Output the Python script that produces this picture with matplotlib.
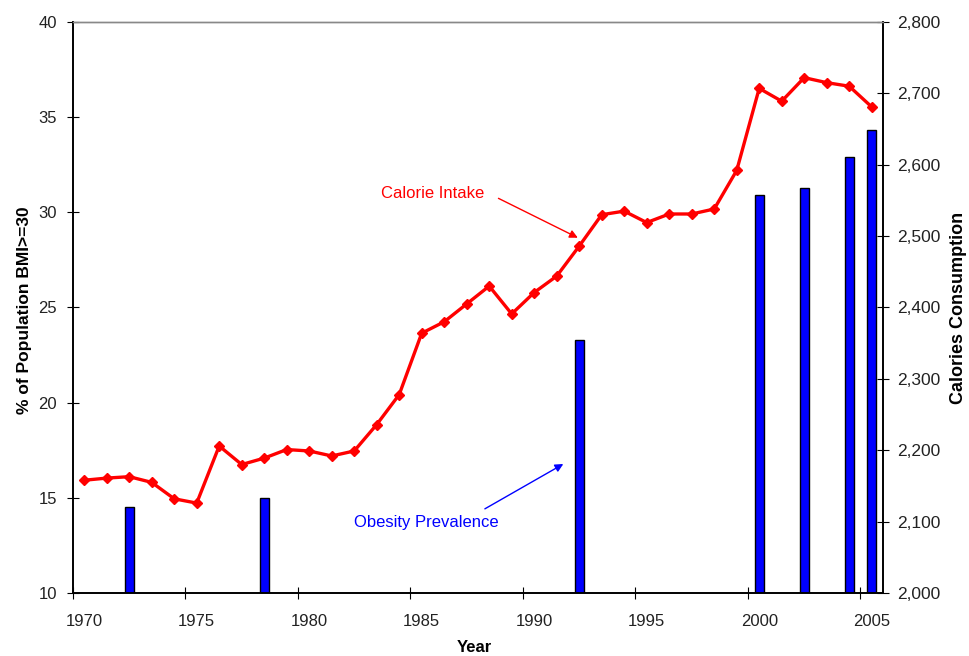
import matplotlib
matplotlib.use("Agg")
import matplotlib.pyplot as plt
import matplotlib.ticker as mticker

plt.rcParams['font.family'] = ['Liberation Sans', 'DejaVu Sans']

# calorie consumption per year (right axis)
cal_years = list(range(1970, 2006))
calories = [2158, 2161, 2163, 2155, 2132, 2126, 2206, 2180, 2189, 2201,
            2199, 2192, 2199, 2236, 2278, 2364, 2380, 2405, 2430, 2391,
            2421, 2444, 2486, 2530, 2535, 2519, 2531, 2531, 2538, 2592,
            2707, 2689, 2722, 2715, 2710, 2681]

# obesity prevalence (left axis)
bmi_years = [1972, 1978, 1992, 2000, 2002, 2004, 2005]
obesity = [14.5, 15.0, 23.3, 30.9, 31.3, 32.9, 34.3]

year_ticks = list(range(1970, 2006, 5))

fig = plt.figure(figsize=(9.69, 6.56), dpi=100)
ax = fig.add_axes([0.0753, 0.096, 0.8359, 0.8705])
ax2 = ax.twinx()

# values sit in the middle of each year slot
ax.bar([y + 0.5 for y in bmi_years], obesity, width=0.4, bottom=0,
       color='#0000ff', edgecolor='black', linewidth=1, zorder=2)
ax2.plot([y + 0.5 for y in cal_years], calories, color='#ff0000', lw=2.4,
         marker='D', markersize=5.5, zorder=3)

ax.set_xlim(1970, 2006)
ax.set_ylim(10, 40)
ax2.set_ylim(2000, 2800)
ax.set_yticks(range(10, 41, 5))
ax2.set_yticks(range(2000, 2801, 100))
ax2.yaxis.set_major_formatter(mticker.StrMethodFormatter('{x:,.0f}'))

# ticks on the year boundaries, labels centred on the year
ax.set_xticks(year_ticks)
ax.set_xticklabels([])
ax.set_xticks([y + 0.5 for y in year_ticks], minor=True)
ax.set_xticklabels([str(y) for y in year_ticks], minor=True)
ax.tick_params(axis='x', which='minor', length=0, labelsize=12, pad=15,
               colors='#222222')
ax.tick_params(axis='x', which='major', direction='inout', length=9)
ax.tick_params(axis='y', direction='inout', length=9, labelsize=12, pad=7,
               labelcolor='#222222')
ax2.tick_params(axis='y', direction='inout', length=9, labelsize=12.5,
                pad=6, labelcolor='#222222')

for a in (ax, ax2):
    a.spines['top'].set_color('#888888')
    a.spines['top'].set_linewidth(1)
    for s in ('left', 'right', 'bottom'):
        a.spines[s].set_linewidth(1.2)

ax.set_xlabel('Year', fontsize=12, fontweight='bold')
ax.xaxis.set_label_coords(0.495, -0.082)
ax.set_ylabel('% of Population BMI>=30', fontsize=12.5, fontweight='bold')
ax.yaxis.set_label_coords(-0.05, 0.495)
ax2.set_ylabel('Calories Consumption', fontsize=13, fontweight='bold')
ax2.yaxis.set_label_coords(1.083, 0.5)

ax.text(1983.7, 31.0, 'Calorie Intake', color='#ff0000', fontsize=12,
        va='center', ha='left')
ax.annotate('', xy=(1992.55, 28.6), xytext=(1988.8, 30.8),
            arrowprops=dict(arrowstyle='-|>', color='#ff0000', lw=1,
                            mutation_scale=12))
ax.text(1982.5, 13.7, 'Obesity Prevalence', color='#0000ff', fontsize=12,
        va='center', ha='left')
ax.annotate('', xy=(1991.9, 16.85), xytext=(1988.2, 14.35),
            arrowprops=dict(arrowstyle='-|>', color='#0000ff', lw=1,
                            mutation_scale=12))

fig.savefig('out.png', dpi=100)
